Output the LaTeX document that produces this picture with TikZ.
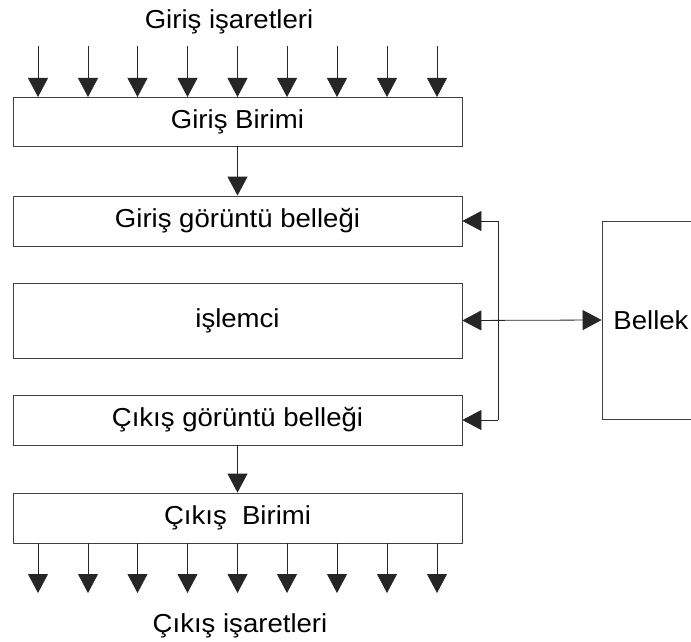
\documentclass[tikz,border=0pt]{standalone}
\usepackage{fontspec}
\setmainfont{Liberation Sans}
\usetikzlibrary{arrows.meta}
\newcommand\hstretchtxt[1]{\scalebox{1.06}[1]{#1}}
\begin{document}
\begin{tikzpicture}[x=1pt,y=-1pt,
  txt/.style={font=\fontsize{26}{31}\selectfont},
  box/.style={txt, draw=black!75, line width=0.8pt, minimum width=449pt, inner sep=0pt},
  arr/.style={-{Triangle[length=19pt,width=20pt]}, line width=0.8pt, draw=black!85},
  dbl/.style={{Triangle[length=19pt,width=20pt]}-{Triangle[length=19pt,width=20pt]}, line width=0.8pt, draw=black!85},
  lab/.style={txt, inner sep=0pt, anchor=base}]
\useasboundingbox (0,0) rectangle (691,642);
\clip (0,0) rectangle (691,642);

\node[lab] (tin) at (229,29) {\hstretchtxt{Giriş işaretleri}};
\node[box, minimum height=49pt] (gb) at (237.5,121.5) {\hstretchtxt{Giriş Birimi}};
\node[box, minimum height=50pt] (ggb) at (237.5,221) {\hstretchtxt{Giriş görüntü belleği}};
\node[box, minimum height=75pt] (isl) at (237.5,320.5) {\hstretchtxt{işlemci}};
\node[box, minimum height=50pt] (cgb) at (237.5,420) {\hstretchtxt{Çıkış görüntü belleği}};
\node[box, minimum height=50pt] (cb) at (237.5,518) {\hstretchtxt{Çıkış~ Birimi}};
\node[lab] (tout) at (240,632) {\hstretchtxt{Çıkış işaretleri}};
\node[box, minimum width=98pt, minimum height=198pt] (bel) at (651,320) {\hstretchtxt{Bellek}};

\foreach \i/\x in {1/38,2/88,3/137.5,4/187.5,5/237.5,6/287,7/337,8/387,9/437}{
  \coordinate (in\i) at (\x,46);
  \coordinate (inT\i) at (\x,97);
  \draw[arr] (in\i) -- (inT\i);
  \coordinate (out\i) at (\x,543);
  \coordinate (outT\i) at (\x,593);
  \draw[arr] (out\i) -- (outT\i);
}

\draw[arr] (gb.south) -- (ggb.north);
\draw[arr] (cgb.south) -- (cb.north);

\coordinate (bt) at (498,221);
\coordinate (bb) at (498,420);
\draw[line width=0.8pt, draw=black!85] (bt) -- (bb);
\draw[arr] (bt) -- (ggb.east);
\draw[arr] (bb) -- (cgb.east);
\draw[dbl] (isl.east) -- (bel.west);
\end{tikzpicture}
\end{document}
